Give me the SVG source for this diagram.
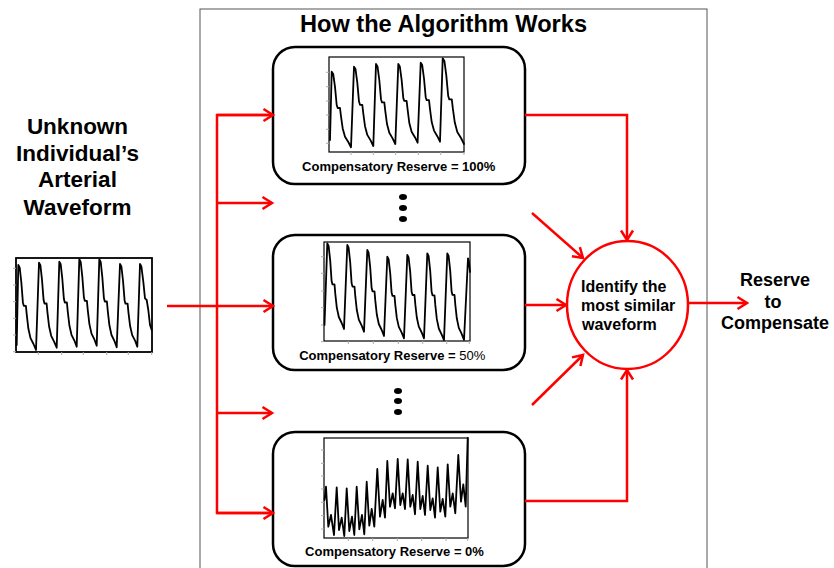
<svg xmlns="http://www.w3.org/2000/svg" width="834" height="568" viewBox="0 0 834 568">
<style>
text{font-family:"Liberation Sans",Arial,sans-serif;font-weight:bold;fill:#000}
.box{fill:#fff;stroke:#000;stroke-width:2.5}
.plot{fill:#fff;stroke:#000;stroke-width:1.2}
.wave{fill:none;stroke:#000;stroke-width:1.8;stroke-linejoin:round;stroke-linecap:round}
.tick{stroke:#aaa;stroke-width:1}
.red{fill:none;stroke:#ff0000;stroke-width:2.5}
.lbl{font-size:13px;text-anchor:middle}
.dot{fill:#000}
</style>
<defs>
<marker id="ah" markerUnits="userSpaceOnUse" markerWidth="16" markerHeight="16" refX="11" refY="6.5" orient="auto" overflow="visible">
<path d="M1.5,0.5 L11,6.5 L1.5,12.5" fill="none" stroke="#ff0000" stroke-width="2.5"/>
</marker>
</defs>
<rect width="834" height="568" fill="#fff"/>
<rect id="frame" x="200" y="9" width="507" height="570" fill="none" stroke="#555" stroke-width="1"/>
<text x="443.5" y="32" font-size="23.6" text-anchor="middle">How the Algorithm Works</text>

<g id="input">
<text font-size="22.5" text-anchor="middle"><tspan x="77.5" y="134">Unknown</tspan><tspan x="77.5" y="160.5">Individual’s</tspan><tspan x="77.5" y="187">Arterial</tspan><tspan x="77.5" y="214.5">Waveform</tspan></text>
<rect x="16" y="258" width="136" height="94" fill="#fff" stroke="#000" stroke-width="1.8"/>
<path class="tick" d="M13,268.3h3M13,285h3M13,301.7h3M13,318.3h3M13,335h3M13,351.7h3M38.3,352v3M61.7,352v3M83.3,352v3M106.7,352v3M128.3,352v3M151.7,352v3"/>
<polyline class="wave" stroke-width="2" points="16.7,345 18.3,265 19.7,267.6 21.3,282 22.9,302.4 23.8,305.8 25.9,305.8 26.8,315.2 28.4,328.8 30.5,338.1 33.5,344 36,350 39,262.7 40.4,265.3 42,279.7 43.6,300.1 44.5,303.5 46.6,303.5 47.5,312.9 49.1,326.5 51.2,335.8 54.2,341.8 56.7,347.7 59.3,261.7 60.7,264.3 62.3,278.7 63.9,299.1 64.8,302.5 66.9,302.5 67.8,311.9 69.4,325.5 71.5,334.8 74.5,340.8 76.7,346.7 79.3,259.3 80.7,261.9 82.3,276.6 83.9,297.3 84.8,300.8 86.9,300.8 87.8,310.3 89.4,324.1 91.5,333.6 94.5,339.7 96.7,345.7 99.3,259.3 100.7,261.9 102.3,276.9 103.9,298 104.8,301.5 106.9,301.5 107.8,311.2 109.4,325.3 111.5,335 114.5,341.1 116.7,347.3 120,264 121.4,266.5 123,280.5 124.6,300.4 125.5,303.7 127.6,303.7 128.5,312.8 130.1,326 132.2,335.1 135.2,340.9 137.3,346.7 140,264 141.4,266.5 143.3,281.7 145,298.3 146.7,300 148.3,310 150,325 151.7,330"/>
</g>

<g id="box100">
<rect class="box" x="273" y="47" width="252" height="137" rx="22"/>
<rect class="plot" x="329" y="57" width="135" height="95"/>
<path class="tick" d="M326,72.3h3M326,86.7h3M326,101h3M326,115h3M326,129.3h3M326,143.3h3M351,152v3M373.3,152v3M395.7,152v3M418.3,152v3M440.7,152v3M464,152v3"/>
<polyline class="wave" points="330,140 331.7,71.7 333.2,73.9 335,86.8 336.7,105 337.7,108 340,108 341,116.3 342.7,128.4 345,136.7 348.3,142 351,147.3 354,66.7 355.5,69.1 357.3,82.6 359,101.6 360,104.8 362.3,104.8 363.3,113.5 365,126.2 367.3,134.9 370.6,140.4 373.3,146 376,64 377.5,66.4 379.3,80 381,99.2 382,102.4 384.3,102.4 385.3,111.2 387,124 389.3,132.8 392.6,138.4 395.3,144 398.3,64 399.8,66.4 401.6,79.7 403.3,98.1 404.3,100.9 406.6,100.9 407.6,109.4 409.3,123 411.6,131.7 414.9,137.2 417.6,142.7 420.7,62.7 422.2,65.1 424,78.5 425.7,97.2 426.7,100.2 429,100.2 430,109.1 431.7,122 434,130.6 437.3,136.2 440,141.7 442.7,58.3 444.4,60.9 446.3,75.4 448.2,96 449.3,99.4 451.8,99.4 452.9,108.9 454.8,122.6 457.3,132 461,138 464,144"/>
<text class="lbl" x="398.7" y="171">Compensatory Reserve = 100%</text>
</g>

<g id="dots1">
<ellipse class="dot" cx="403" cy="197" rx="4" ry="3"/>
<ellipse class="dot" cx="403" cy="208" rx="4" ry="3"/>
<ellipse class="dot" cx="403" cy="219" rx="4" ry="3"/>
</g>

<g id="box50">
<rect class="box" x="273" y="235" width="252" height="135" rx="22"/>
<rect class="plot" x="324" y="242" width="146" height="99"/>
<path class="tick" d="M321,256.7h3M321,273.3h3M321,291h3M321,307.7h3M321,325h3M321,341.7h3M348.3,341v3M373.3,341v3M398.3,341v3M422.7,341v3M446.7,341v3M469.3,341v3"/>
<polyline class="wave" points="324.5,325 327.3,243.3 328.6,245.9 330.2,260.4 331.6,281 332.5,284.4 334.5,284.4 335.3,293.9 336.8,307.6 338.8,317 341.7,323 344,329 347.3,245 348.6,247.6 350.2,262.3 351.6,283.1 352.5,286.6 354.5,286.6 355.3,296.2 356.8,310 358.8,319.6 361.7,325.6 364,331.7 367.3,250 368.6,252.6 370.2,267.2 371.6,287.8 372.5,291.3 374.5,291.3 375.3,300.7 376.8,314.5 378.8,324 381.7,330 384,336 387.3,256.7 388.6,259.1 390.2,273 391.6,292.6 392.5,295.9 394.5,295.9 395.3,304.8 396.8,317.9 398.8,326.9 401.7,332.6 404,338.3 407.3,255 408.6,257.5 410.2,271.7 411.6,291.7 412.5,295 414.5,295 415.3,304.2 416.8,317.5 418.8,326.6 421.7,332.5 424,338.3 427.3,253.3 428.6,255.9 430.2,270.8 431.6,291.8 432.5,295.3 434.5,295.3 435.3,304.9 436.8,318.9 438.8,328.5 441.7,334.6 444,340.2 447.3,253.3 448.6,255.9 450.2,270.6 451.6,291.5 452.5,294.9 454.5,294.9 455.3,304.5 456.8,318.3 458.8,327.9 461.7,333.9 464,340 468,258.3 469,262 470,272"/>
<text class="lbl" x="392.2" y="360">Compensatory Reserve = <tspan font-weight="normal">50%</tspan></text>
</g>

<g id="dots2">
<ellipse class="dot" cx="398" cy="391" rx="4" ry="3"/>
<ellipse class="dot" cx="398" cy="401" rx="4" ry="3"/>
<ellipse class="dot" cx="398" cy="412" rx="4" ry="3"/>
</g>

<g id="box0">
<rect class="box" x="273" y="432" width="252" height="134" rx="22"/>
<rect class="plot" x="324" y="438" width="144" height="100"/>
<path class="tick" d="M321,450h3M321,463.3h3M321,476h3M321,489h3M321,502.3h3M321,515.7h3M321,529h3M348.3,538v3M372.7,538v3M397.3,538v3M421.7,538v3M446,538v3M467.7,538v3"/>
<polyline class="wave" stroke-width="2.4" points="324.5,500 326,486.7 328.3,526.7 331,515 334,535 336.7,487.3 339,530 341.7,517.7 344.3,536 346.7,488.3 349.3,531 352,516.7 354.3,535 356.7,486.7 359.3,529.3 362,515 364.3,534.3 366.7,481.7 369.3,525.7 371.7,509 374.3,526.7 377.3,469 380,516.7 382.7,500 385,517.7 387.3,461 390,506.7 392.7,493.3 395,508.3 397.7,459 400.3,505 402.7,493.3 405,509 407.7,459.3 410.3,506.7 412.7,495 415,514.3 417.7,461.7 420.3,509 422.7,496 425,515 427.7,465.7 430.3,510 432.7,498.3 435,517.7 437.7,467.3 440.3,511.7 442.7,499 445.3,516.7 447.7,464.3 450.3,506.7 452.7,493.3 455.3,513.3 458.3,455 461,501.7 463.3,484.3 465.7,506.7 467.7,438"/>
<text class="lbl" x="394.5" y="556">Compensatory Reserve = 0%</text>
</g>

<g id="identify">
<ellipse cx="627.5" cy="305" rx="60.5" ry="64" fill="#fff" stroke="#ff0000" stroke-width="2.5"/>
<text font-size="16"><tspan x="581" y="292">Identify the</tspan><tspan x="581" y="311">most similar</tspan><tspan x="582" y="330">waveform</tspan></text>
</g>

<g id="output">
<text font-size="18" text-anchor="middle"><tspan x="775" y="286">Reserve</tspan><tspan x="773" y="307.5">to</tspan><tspan x="775" y="329">Compensate</tspan></text>
</g>

<g id="connectors">
<path class="red" d="M273,115 H217 V513 H273" />
<path class="red" d="M217,115 H273" marker-end="url(#ah)"/>
<path class="red" d="M217,203 H272" marker-end="url(#ah)"/>
<path class="red" d="M167,306 H273" marker-end="url(#ah)"/>
<path class="red" d="M217,413 H272" marker-end="url(#ah)"/>
<path class="red" d="M217,513 H273" marker-end="url(#ah)"/>
<path class="red" d="M525,115 H627 V240" marker-end="url(#ah)"/>
<path class="red" d="M525,501 H627 V370" marker-end="url(#ah)"/>
<path class="red" d="M525,305 H566" marker-end="url(#ah)"/>
<path class="red" d="M532,213 L583,258" marker-end="url(#ah)"/>
<path class="red" d="M532,405 L583,355" marker-end="url(#ah)"/>
<path class="red" d="M688,303 H747" marker-end="url(#ah)"/>
</g>
</svg>
